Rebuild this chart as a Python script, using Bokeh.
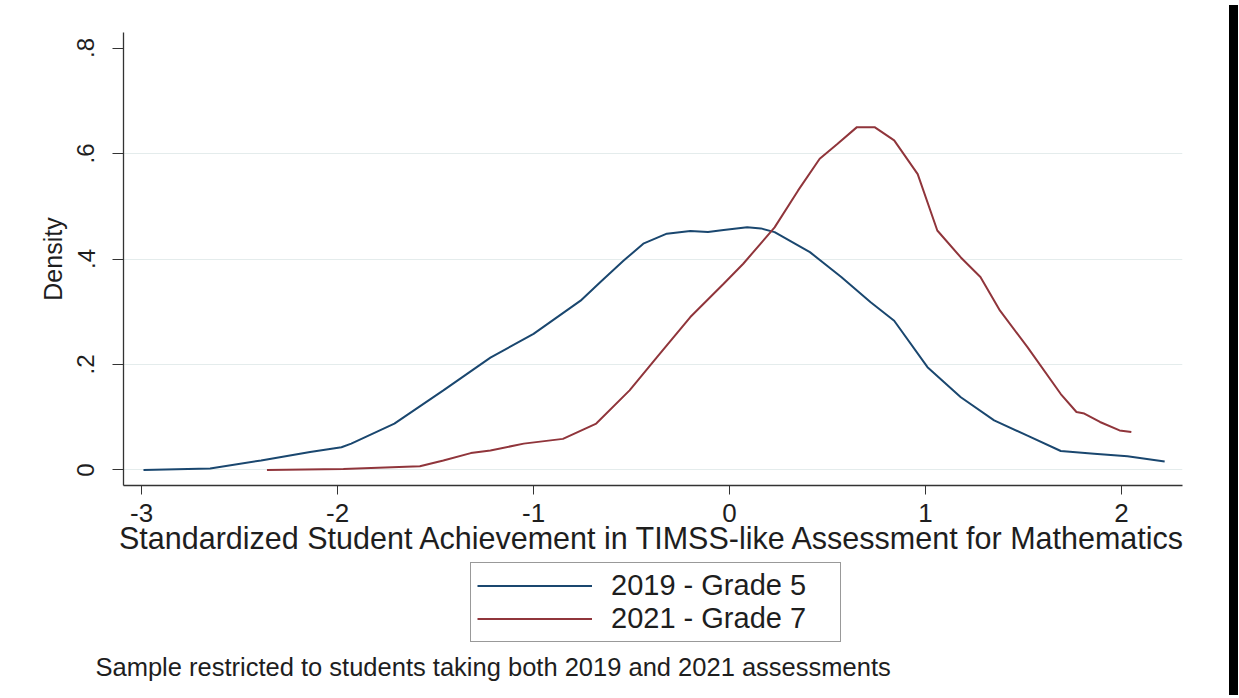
from bokeh.plotting import figure
from bokeh.models import Legend, LegendItem, FixedTicker, Title, Div, Range1d
from bokeh.layouts import row, column
from bokeh.embed import file_html
from bokeh.resources import INLINE

# ---- data ----
blue_x = [-2.99, -2.65, -2.39, -2.14, -1.98, -1.93, -1.71, -1.46, -1.22, -1.00,
          -0.76, -0.66, -0.54, -0.44, -0.32, -0.20, -0.11, -0.03, 0.09, 0.16,
          0.23, 0.41, 0.57, 0.72, 0.84, 1.01, 1.18, 1.35, 1.52, 1.69, 1.86,
          2.03, 2.22]
blue_y = [0.000, 0.003, 0.018, 0.034, 0.043, 0.050, 0.088, 0.151, 0.213, 0.258,
          0.321, 0.356, 0.397, 0.429, 0.448, 0.453, 0.451, 0.455, 0.460, 0.458,
          0.451, 0.413, 0.366, 0.318, 0.283, 0.195, 0.138, 0.094, 0.065, 0.036,
          0.031, 0.026, 0.016]

red_x = [-2.36, -1.97, -1.58, -1.46, -1.32, -1.22, -1.05, -0.85, -0.68, -0.51,
         -0.37, -0.20, -0.03, 0.07, 0.23, 0.35, 0.46, 0.55, 0.65, 0.72, 0.74,
         0.84, 0.96, 1.06, 1.18, 1.28, 1.38, 1.52, 1.69, 1.77, 1.81, 1.89,
         1.99, 2.05]
red_y = [0.000, 0.002, 0.007, 0.018, 0.032, 0.037, 0.050, 0.059, 0.088, 0.151,
         0.214, 0.290, 0.353, 0.391, 0.460, 0.530, 0.590, 0.618, 0.650, 0.650,
         0.650, 0.625, 0.561, 0.454, 0.403, 0.366, 0.302, 0.233, 0.144, 0.110,
         0.107, 0.091, 0.075, 0.072]

series_labels = ["2019 - Grade 5", "2021 - Grade 7"]
x_ticks = [-3, -2, -1, 0, 1, 2]
x_tick_labels = ["-3", "-2", "-1", "0", "1", "2"]
y_ticks = [0, 0.2, 0.4, 0.6, 0.8]
y_tick_labels = ["0", ".2", ".4", ".6", ".8"]
x_title = "Standardized Student Achievement in TIMSS-like Assessment for Mathematics"
y_title = "Density"
note_text = "Sample restricted to students taking both 2019 and 2021 assessments"

FONT = "Liberation Sans"
TXT = "#1e1e1e"
BLUE = "#1a476f"
RED = "#90353b"

# ---------------- main plot ----------------
p = figure(frame_width=1059, frame_height=453,
           x_range=Range1d(-3.092, 2.311), y_range=Range1d(-0.0294, 0.8294),
           output_backend="svg", toolbar_location=None,
           min_border_left=123, min_border_right=42,
           min_border_top=32, min_border_bottom=75)
p.outline_line_color = None
p.background_fill_color = "white"
p.border_fill_color = "white"

r1 = p.line(blue_x, blue_y, line_color=BLUE, line_width=2)
r2 = p.line(red_x, red_y, line_color=RED, line_width=2)

xa = p.xaxis[0]
xa.ticker = FixedTicker(ticks=x_ticks)
xa.major_label_overrides = {t: s for t, s in zip(x_ticks, x_tick_labels)}
xa.minor_tick_line_color = None
xa.major_tick_out = 9
xa.major_tick_in = 0
xa.major_label_standoff = 9
xa.major_label_text_font = FONT
xa.major_label_text_font_size = "26px"
xa.major_label_text_color = TXT
xa.axis_label = x_title
xa.axis_label_text_font = FONT
xa.axis_label_text_font_size = "30.5px"
xa.axis_label_text_font_style = "normal"
xa.axis_label_text_color = TXT
xa.axis_label_standoff = -4
xa.axis_line_color = "#333333"
xa.major_tick_line_color = "#333333"
xa.axis_line_width = 1.3

ya = p.yaxis[0]
ya.ticker = FixedTicker(ticks=y_ticks)
ya.major_label_overrides = {t: s for t, s in zip(y_ticks, y_tick_labels)}
ya.minor_tick_line_color = None
ya.major_tick_out = 11
ya.major_tick_in = 0
ya.major_label_orientation = "vertical"
ya.major_label_standoff = 18
ya.major_label_text_font = FONT
ya.major_label_text_font_size = "24px"
ya.major_label_text_color = TXT
ya.axis_label = y_title
ya.axis_label_text_font = FONT
ya.axis_label_text_font_size = "25px"
ya.axis_label_text_font_style = "normal"
ya.axis_label_text_color = TXT
ya.axis_label_standoff = 8
ya.axis_line_color = "#333333"
ya.major_tick_line_color = "#333333"
ya.axis_line_width = 1.3

p.xgrid.visible = False
p.ygrid.ticker = FixedTicker(ticks=[0, 0.2, 0.4, 0.6])
p.ygrid.grid_line_color = "#e4ecec"
p.ygrid.grid_line_width = 1.2

# ---------------- legend + note strip ----------------
STRIP_FRAME_H = 90
q = figure(frame_width=1059, frame_height=STRIP_FRAME_H,
           x_range=Range1d(100, 101), y_range=Range1d(100, 101),
           x_axis_type=None, y_axis_type=None,
           output_backend="svg", toolbar_location=None,
           min_border_left=123, min_border_right=42,
           min_border_top=0, min_border_bottom=40)
q.outline_line_color = None
q.background_fill_color = "white"
q.border_fill_color = "white"
# same series drawn here (outside this strip's view) so the legend keys are real glyphs
q1 = q.line(blue_x, blue_y, line_color=BLUE, line_width=2)
q2 = q.line(red_x, red_y, line_color=RED, line_width=2)

legend = Legend(items=[LegendItem(label=series_labels[0], renderers=[q1]),
                       LegendItem(label=series_labels[1], renderers=[q2])],
                location=(347, 8), orientation="vertical")
legend.label_text_font = FONT
legend.label_text_font_size = "29px"
legend.label_text_color = TXT
legend.glyph_width = 115
legend.glyph_height = 33
legend.label_height = 33
legend.label_width = 223
legend.label_standoff = 19
legend.spacing = 0
legend.padding = 6
legend.margin = 0
legend.border_line_color = "#333333"
legend.border_line_width = 1.5
legend.background_fill_color = "white"
q.add_layout(legend, "center")

note = Title(text=note_text, align="left", offset=-28, standoff=0,
             text_font=FONT, text_font_size="25.5px", text_font_style="normal",
             text_color=TXT)
q.add_layout(note, "below")

bar = Div(width=9, height=690, styles={"background-color": "black"})
layout = row(column(p, q), bar)

open("out.html", "w").write(file_html(layout, INLINE))
